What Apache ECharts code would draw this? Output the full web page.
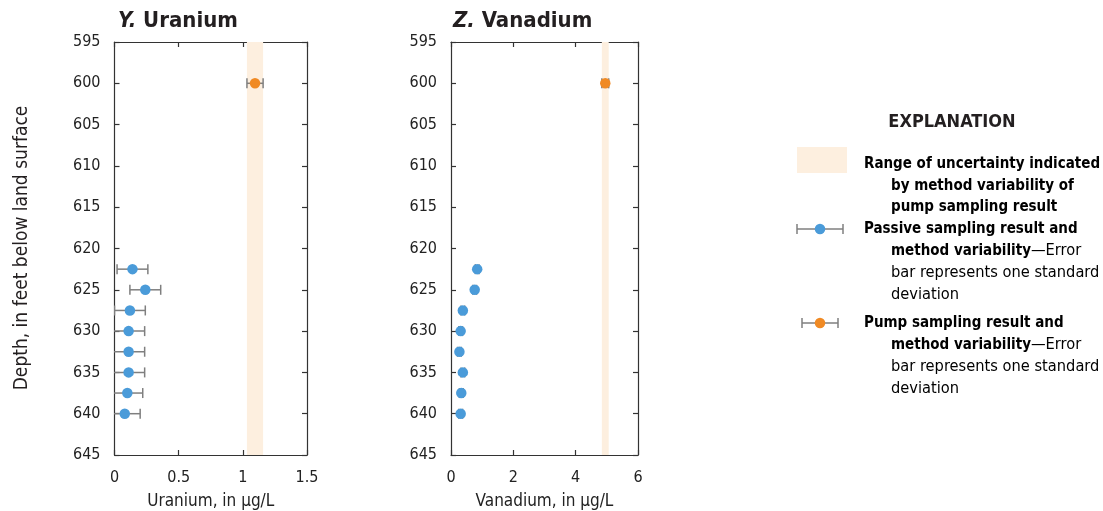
<!DOCTYPE html>
<html><head><meta charset="utf-8">
<script src="https://cdn.jsdelivr.net/npm/echarts@6/dist/echarts.min.js"></script>
<style>html,body{margin:0;padding:0;background:#fff}#c{width:1103px;height:511px}</style>
</head><body><div id="c"></div>
<script>
// ---- data ----
const passiveDepth = [622.5, 625, 627.5, 630, 632.5, 635, 637.5, 640];
const pumpDepth = [600];
const uraniumPassive = [0.14, 0.24, 0.12, 0.11, 0.11, 0.11, 0.10, 0.08];
const uraniumPassiveSD = [0.12, 0.12, 0.12, 0.125, 0.125, 0.125, 0.12, 0.12];
const uraniumPump = [1.095];
const uraniumPumpSD = [0.063];
const vanadiumPassive = [0.84, 0.76, 0.38, 0.31, 0.27, 0.38, 0.33, 0.31];
const vanadiumPassiveSD = [0.06, 0.06, 0.06, 0.06, 0.06, 0.06, 0.06, 0.06];
const vanadiumPump = [4.95];
const vanadiumPumpSD = [0.11];
const depthRange = [595, 645, 5];
const uraniumRange = [0, 1.5, 0.5];
const vanadiumRange = [0, 6, 2];

const FONT = "'Liberation Sans Narrow','DejaVu Sans Condensed','Roboto',sans-serif";
const BLUE = '#4a9bd9', ORANGE = '#f08a24', GRAY = '#7f7f7f', BAND = '#fdefdf', AX = '#333';

function pts(xs, ys, sds){ return xs.map((x,i)=>[x, ys[i], sds[i]]); }

function errSeries(idx, data){
  return {
    type:'custom', xAxisIndex: idx*2, yAxisIndex: idx*2, clip:true, z:3,
    data: data,
    renderItem: function(params, api){
      const x = api.value(0), y = api.value(1), s = api.value(2);
      const a = api.coord([x - s, y]), b = api.coord([x + s, y]);
      const h = 5;
      const st = {stroke: GRAY, lineWidth: 1.5};
      return {type:'group', children:[
        {type:'line', shape:{x1:a[0],y1:a[1],x2:b[0],y2:b[1]}, style:st},
        {type:'line', shape:{x1:a[0],y1:a[1]-h,x2:a[0],y2:a[1]+h}, style:st},
        {type:'line', shape:{x1:b[0],y1:b[1]-h,x2:b[0],y2:b[1]+h}, style:st}
      ]};
    }
  };
}
function scat(idx, data, color){
  return {type:'scatter', xAxisIndex: idx*2, yAxisIndex: idx*2, z:4, symbolSize:10.5,
    itemStyle:{color:color, opacity:1}, data: data.map(d=>[d[0], d[1]])};
}
function band(idx, v, s){
  return {type:'custom', xAxisIndex: idx*2, yAxisIndex: idx*2, z:1, data:[], renderItem:()=>null,
    markArea:{silent:true, itemStyle:{color:BAND}, data:[[{xAxis: v - s},{xAxis: v + s}]]}};
}

const grids = [
  {left:114.5, width:192.5, top:42, height:413, outerBoundsMode:'none', containLabel:false},
  {left:451, width:187, top:42, height:413, outerBoundsMode:'none', containLabel:false}
];
const lineSt = {show:true, onZero:false, lineStyle:{color:AX, width:1.2}};
const tickSt = {show:true, inside:true, length:5, lineStyle:{color:AX, width:1.2}};
function xAxes(idx, r, name){
  return [
    {gridIndex:idx, type:'value', min:r[0], max:r[1], interval:r[2], position:'bottom',
     name:name, nameLocation:'middle', nameGap:38,
     nameTextStyle:{fontFamily:FONT, fontSize:17, color:'#222'},
     axisLine:lineSt, axisTick:tickSt,
     axisLabel:{fontFamily:FONT, fontSize:16, color:'#222', margin:15},
     splitLine:{show:false}},
    {gridIndex:idx, type:'value', min:r[0], max:r[1], interval:r[2], position:'top',
     axisLine:lineSt, axisTick:tickSt,
     axisLabel:{show:false}, splitLine:{show:false}}
  ];
}
function yAxes(idx){
  return [
    {gridIndex:idx, type:'value', inverse:true, min:depthRange[0], max:depthRange[1], interval:depthRange[2], position:'left',
     axisLine:lineSt, axisTick:tickSt,
     axisLabel:{fontFamily:FONT, fontSize:16, color:'#222', margin:14},
     splitLine:{show:false}},
    {gridIndex:idx, type:'value', inverse:true, min:depthRange[0], max:depthRange[1], interval:depthRange[2], position:'right',
     axisLine:lineSt, axisTick:tickSt,
     axisLabel:{show:false}, splitLine:{show:false}}
  ];
}

const uP = pts(uraniumPassive, passiveDepth, uraniumPassiveSD);
const uM = pts(uraniumPump, pumpDepth, uraniumPumpSD);
const vP = pts(vanadiumPassive, passiveDepth, vanadiumPassiveSD);
const vM = pts(vanadiumPump, pumpDepth, vanadiumPumpSD);

const bold = {fontFamily:FONT, fontSize:15, fontWeight:'bold', color:'#231f20'};
const norm = {fontFamily:FONT, fontSize:16.3, color:'#231f20'};
function legMarker(cx, cy, half, color){
  const st = {stroke: GRAY, lineWidth:1.5};
  return [
    {type:'line', shape:{x1:cx-half,y1:cy,x2:cx+half,y2:cy}, style:st},
    {type:'line', shape:{x1:cx-half,y1:cy-5,x2:cx-half,y2:cy+5}, style:st},
    {type:'line', shape:{x1:cx+half,y1:cy-5,x2:cx+half,y2:cy+5}, style:st},
    {type:'circle', shape:{cx:cx, cy:cy, r:5.25}, style:{fill:color}}
  ];
}
function line(x, y, t){
  return {type:'text', style:{x:x, y:y, text:t, rich:{b:bold, n:norm}, verticalAlign:'middle'}};
}

const titleStyle = {fontFamily:FONT, fontSize:22, fontWeight:'bold', color:'#231f20',
  rich:{i:{fontFamily:FONT, fontSize:22, fontWeight:'bold', fontStyle:'italic', color:'#231f20'},
        t:{fontFamily:FONT, fontSize:22, fontWeight:'bold', color:'#231f20'}}};

const option = {
  animation:false,
  backgroundColor:'#fff',
  title:[
    {text:'{i|Y.} {t|Uranium}', left:113, top:5, textStyle:titleStyle},
    {text:'{i|Z.} {t|Vanadium}', left:448, top:5, textStyle:titleStyle}
  ],
  grid: grids,
  xAxis: [].concat(xAxes(0, uraniumRange, 'Uranium, in µg/L'), xAxes(1, vanadiumRange, 'Vanadium, in µg/L')),
  yAxis: [].concat(yAxes(0), yAxes(1)),
  series: [
    band(0, uraniumPump[0], uraniumPumpSD[0]),
    band(1, vanadiumPump[0], vanadiumPumpSD[0]),
    errSeries(0, uP), errSeries(0, uM), scat(0, uP, BLUE), scat(0, uM, ORANGE),
    errSeries(1, vP), errSeries(1, vM), scat(1, vP, BLUE), scat(1, vM, ORANGE)
  ],
  graphic: [
    {type:'text', x:22, y:248, rotation:Math.PI/2,
     style:{text:'Depth, in feet below land surface', font:'19px ' + FONT, fill:'#231f20', align:'center', verticalAlign:'middle'}},
    {type:'text', style:{x:952, y:122, text:'EXPLANATION', font:'bold 18px ' + FONT, fill:'#231f20', align:'center', verticalAlign:'middle'}},
    {type:'rect', shape:{x:797, y:147, width:50, height:26}, style:{fill:BAND}},
    {type:'group', children: legMarker(820, 229, 23, BLUE)},
    {type:'group', children: legMarker(820, 323, 18, ORANGE)},
    line(864, 164, '{b|Range of uncertainty indicated}'),
    line(891, 186, '{b|by method variability of}'),
    line(891, 207, '{b|pump sampling result}'),
    line(864, 229, '{b|Passive sampling result and}'),
    line(891, 251, '{b|method variability}{n|—Error}'),
    line(891, 273, '{n|bar represents one standard}'),
    line(891, 295, '{n|deviation}'),
    line(864, 323, '{b|Pump sampling result and}'),
    line(891, 345, '{b|method variability}{n|—Error}'),
    line(891, 367, '{n|bar represents one standard}'),
    line(891, 389, '{n|deviation}')
  ]
};
const chart = echarts.init(document.getElementById('c'), null, {renderer:'canvas'});
chart.setOption(option);
</script></body></html>
